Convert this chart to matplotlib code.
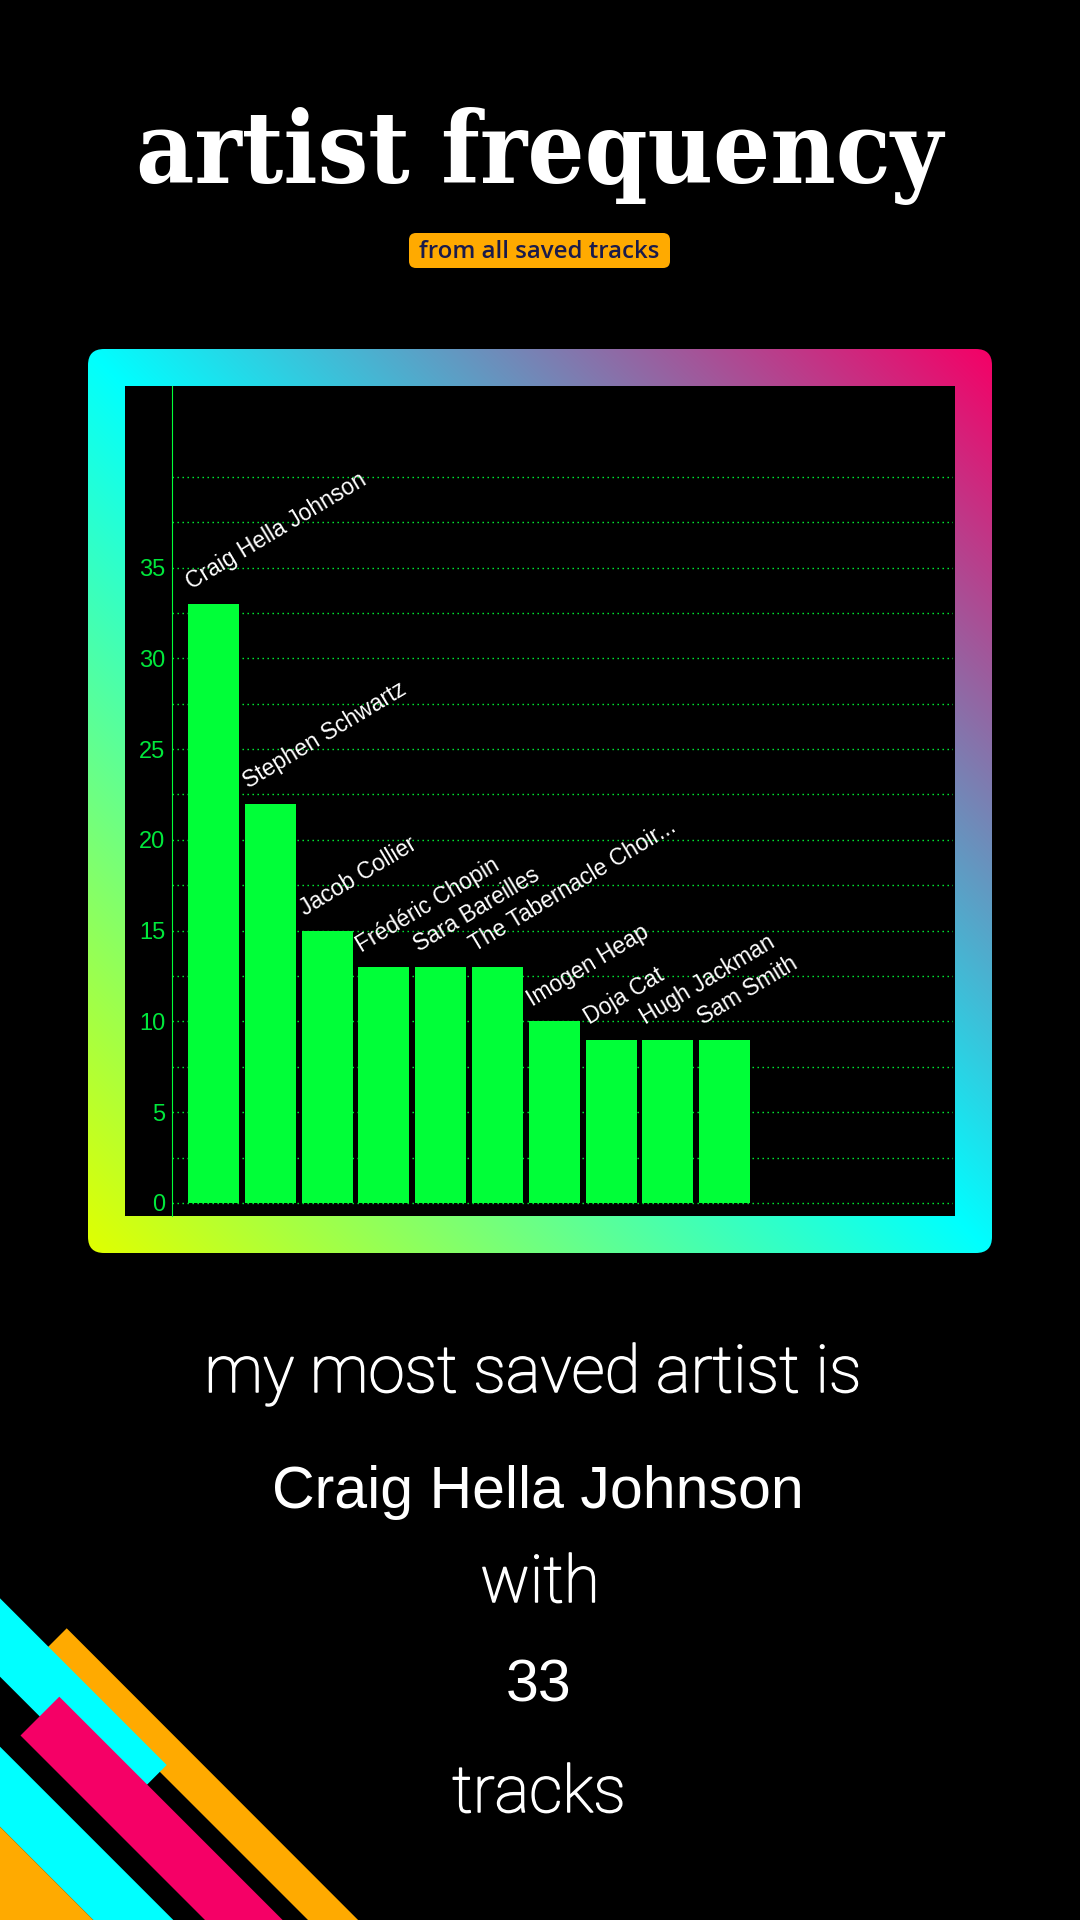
import matplotlib
matplotlib.use("Agg")
import matplotlib.pyplot as plt
import matplotlib.patheffects as pe
import numpy as np
from matplotlib.patches import FancyBboxPatch, Rectangle, Polygon

# ---------------- data ----------------
artists = ["Craig Hella Johnson", "Stephen Schwartz", "Jacob Collier",
           "Frédéric Chopin", "Sara Bareilles", "The Tabernacle Choir...",
           "Imogen Heap", "Doja Cat", "Hugh Jackman", "Sam Smith"]
counts = [33, 22, 15, 13, 13, 13, 10, 9, 9, 9]
ytick_values = [0, 5, 10, 15, 20, 25, 30, 35]
ygrid_minor = [2.5, 7.5, 12.5, 17.5, 22.5, 27.5, 32.5, 37.5, 40]
title = "artist frequency"
subtitle = "from all saved tracks"
summary_intro = "my most saved artist is"
top_artist = "Craig Hella Johnson"
summary_with = "with"
top_count = "33"
summary_tracks = "tracks"

# ---------------- styles ----------------
W, H = 1080, 1920
BAR = "#00FF38"
TICK = "#00E83C"
PINK = "#F50066"
CYAN = "#00FFFF"
ORANGE = "#FFAA00"
YELLOW = (0.88, 1.0, 0.0)
thicken = [pe.withStroke(linewidth=1.1, foreground="white")]

fig = plt.figure(figsize=(W / 100, H / 100), dpi=100, facecolor="black")
bg = fig.add_axes([0, 0, 1, 1])
bg.set_xlim(0, W)
bg.set_ylim(H, 0)
bg.axis("off")
renderer = fig.canvas.get_renderer()


def fit_text(x, y, s, target_w, **kw):
    t = bg.text(x, y, s, **kw)
    w = t.get_window_extent(renderer).width
    t.set_fontsize(t.get_fontsize() * target_w / w)
    return t


# ---------------- title + subtitle ----------------
fit_text(539, 183, title, 808, ha="center", va="baseline", color="white",
         fontsize=80, fontfamily="DejaVu Serif", fontweight="bold",
         fontstretch="condensed")
bg.add_patch(FancyBboxPatch((409, 233), 261, 35,
                            boxstyle="round,pad=0,rounding_size=7",
                            facecolor=ORANGE, edgecolor="none"))
fit_text(539.5, 258, subtitle, 241, ha="center", va="baseline",
         color="#1B1B4B", fontsize=16, fontfamily="Open Sans",
         fontweight="semibold")

# ---------------- gradient frame ----------------
fx0, fy0, fs = 88, 349, 904
n = 400
u = np.linspace(0, 1, n)
v = np.linspace(0, 1, n)
t = ((1 - u)[None, :] + v[:, None]) / 2.0
c_pink = np.array(matplotlib.colors.to_rgb(PINK))
c_cyan = np.array(matplotlib.colors.to_rgb(CYAN))
c_yel = np.array(YELLOW)
a = np.clip(t / 0.5, 0, 1)[..., None]
b = np.clip((t - 0.5) / 0.5, 0, 1)[..., None]
img = np.where(t[..., None] <= 0.5,
               c_pink * (1 - a) + c_cyan * a,
               c_cyan * (1 - b) + c_yel * b)
frame_clip = FancyBboxPatch((fx0, fy0), fs, fs,
                            boxstyle="round,pad=0,rounding_size=16",
                            facecolor="none", edgecolor="none")
bg.add_patch(frame_clip)
im = bg.imshow(img, extent=[fx0, fx0 + fs, fy0 + fs, fy0], origin="upper",
               aspect="auto", interpolation="bilinear", zorder=1)
im.set_clip_path(frame_clip)
bg.add_patch(Rectangle((125, 386), 830, 830, facecolor="black",
                       edgecolor="none", zorder=2))
bg.set_xlim(0, W)
bg.set_ylim(H, 0)

# ---------------- bar chart ----------------
ax_left, ax_right, ax_top, ax_bot = 172, 953, 386, 1216
ax = fig.add_axes([ax_left / W, 1 - ax_bot / H,
                   (ax_right - ax_left) / W, (ax_bot - ax_top) / H])
ax.set_facecolor("none")
x = np.arange(len(artists))
ax.bar(x, counts, width=0.9, color=BAR, zorder=3)
ax.set_xlim(-0.73, 13.02)
ax.set_ylim(-0.72, 45)
ax.set_yticks(ytick_values)
ax.set_yticks(ygrid_minor, minor=True)
ax.set_yticklabels([str(v) for v in ytick_values], fontfamily="Liberation Sans",
                   fontsize=17, color=TICK)
ax.tick_params(axis="y", which="both", length=0, pad=5)
ax.set_xticks([])
ax.grid(axis="y", which="both", color=BAR, linestyle=(0, (1, 2.6)),
        linewidth=1.0, zorder=1)
for side in ["top", "right", "bottom"]:
    ax.spines[side].set_visible(False)
ax.spines["left"].set_color(BAR)
ax.spines["left"].set_linewidth(0.8)

for xi, name, val in zip(x, artists, counts):
    ax.annotate(name, xy=(xi - 0.45, val), xytext=(2.5, 10.5),
                textcoords="offset points", rotation=31,
                rotation_mode="anchor", ha="left", va="baseline",
                color="white", fontsize=16.5, fontfamily="Liberation Sans",
                zorder=4, annotation_clip=False)

# ---------------- summary text ----------------
t1 = fit_text(533, 1392, summary_intro, 657, ha="center", va="baseline",
              color="white", fontsize=44, fontfamily="Roboto",
              fontweight="light", path_effects=thicken)
light_size = t1.get_fontsize()
t2 = fit_text(538, 1508, top_artist, 532, ha="center", va="baseline",
              color="white", fontsize=42, fontfamily="Liberation Sans")
bg.text(540, 1602, summary_with, ha="center", va="baseline", color="white",
        fontsize=light_size, fontfamily="Roboto", fontweight="light",
        path_effects=thicken)
bg.text(539, 1702, top_count, ha="center", va="baseline", color="white",
        fontsize=t2.get_fontsize(), fontfamily="Liberation Sans")
bg.text(539, 1812, summary_tracks, ha="center", va="baseline", color="white",
        fontsize=light_size, fontfamily="Roboto", fontweight="light",
        path_effects=thicken)

# ---------------- corner decoration ----------------
shapes = [
    (ORANGE, [(66.7, 1628.3), (438, 2000), (388, 2000), (41.5, 1653.5)]),
    (CYAN, [(-100, 1498.3), (166.7, 1765), (127.5, 1804.2), (-100, 1576.7)]),
    (PINK, [(59.3, 1696.7), (362.6, 2000), (285, 2000), (20.5, 1735.5)]),
    (CYAN, [(-100, 1646.7), (300, 2046.7), (300, 2126.7), (-100, 1726.7)]),
    (ORANGE, [(-100, 1726.7), (300, 2126.7), (-100, 2126.7)]),
]
for col, pts in shapes:
    bg.add_patch(Polygon(pts, closed=True, facecolor=col, edgecolor="none",
                         zorder=3))

fig.savefig("out.png", dpi=100, facecolor="black")
